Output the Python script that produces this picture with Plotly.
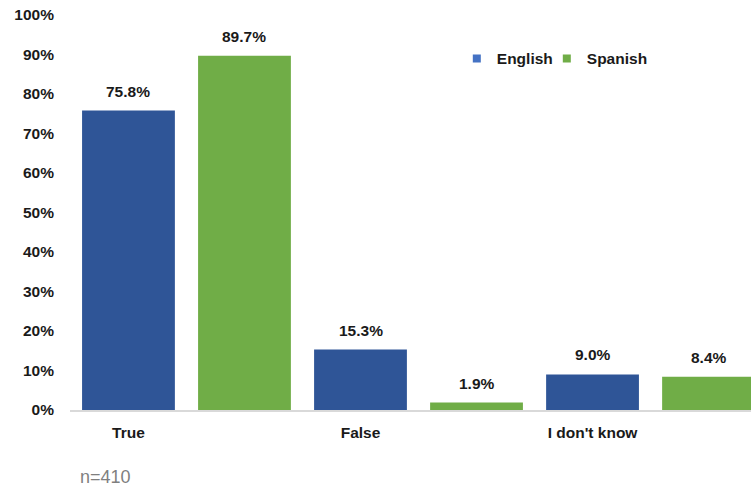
import plotly.graph_objects as go

categories = ["True", "False", "I don't know"]
english = [75.8, 15.3, 9.0]
spanish = [89.7, 1.9, 8.4]
series_names = ["English", "Spanish"]
y_ticks = list(range(0, 101, 10))
note = "n=410"

bar_colors = ["#2F5597", "#70AD47"]
legend_colors = ["#4472C4", "#70AD47"]
FONT = "Liberation Sans, Arial, sans-serif"

x_en = [2 * i for i in range(len(categories))]
x_es = [2 * i + 1 for i in range(len(categories))]

fig = go.Figure()
for xs, vals, col in [(x_en, english, bar_colors[0]), (x_es, spanish, bar_colors[1])]:
    fig.add_trace(go.Bar(x=xs, y=vals, width=0.8, marker=dict(color=col, line=dict(width=0)),
                         showlegend=False, hoverinfo="skip"))
    for x, v in zip(xs, vals):
        fig.add_annotation(x=x, y=v, text=f"{v:.1f}%", showarrow=False, yanchor="bottom",
                           yshift=9, font=dict(family=FONT, size=15.5, color="#1a1a1a", weight="bold"))

for name, col in zip(series_names, legend_colors):
    fig.add_trace(go.Scatter(x=[None], y=[None], mode="markers", name=name,
                             marker=dict(symbol="square", size=8, color=col)))
# spacer entry so the last legend label is not clipped
fig.add_trace(go.Scatter(x=[None], y=[None], mode="markers", name=" ",
                         marker=dict(size=1, color="rgba(0,0,0,0)")))

fig.add_annotation(xref="paper", yref="paper", x=0.0514, y=-0.17, text=note, showarrow=False,
                   xanchor="center", yanchor="middle",
                   font=dict(family=FONT, size=18, color="#7f7f7f"))

fig.update_layout(
    width=751, height=488,
    margin=dict(l=70, r=0, t=15, b=78),
    plot_bgcolor="white", paper_bgcolor="white",
    barmode="overlay",
    font=dict(family=FONT, size=15.5, color="#1a1a1a"),
    legend=dict(orientation="h", x=0.568, y=0.889, xanchor="left", yanchor="middle",
                entrywidth=45, entrywidthmode="pixels",
                font=dict(family=FONT, size=15.5, color="#1a1a1a", weight="bold"),
                bgcolor="rgba(0,0,0,0)"),
    xaxis=dict(range=[-0.504, 5.366], tickvals=x_en, ticktext=categories,
               showgrid=False, zeroline=False, showline=True, linecolor="#d9d9d9", linewidth=1.5,
               ticks="", ticklabelstandoff=8,
               tickfont=dict(family=FONT, size=15.5, color="#1a1a1a", weight="bold")),
    yaxis=dict(range=[0, 100], tickvals=y_ticks, ticktext=[f"{t}%" for t in y_ticks],
               showgrid=False, zeroline=False,
               showline=False, ticks="", ticklabelstandoff=15,
               tickfont=dict(family=FONT, size=15.5, color="#1a1a1a", weight="bold")),
)

fig.write_html("out.html", config={"displayModeBar": False},
               post_script="document.body.style.margin='0';")
